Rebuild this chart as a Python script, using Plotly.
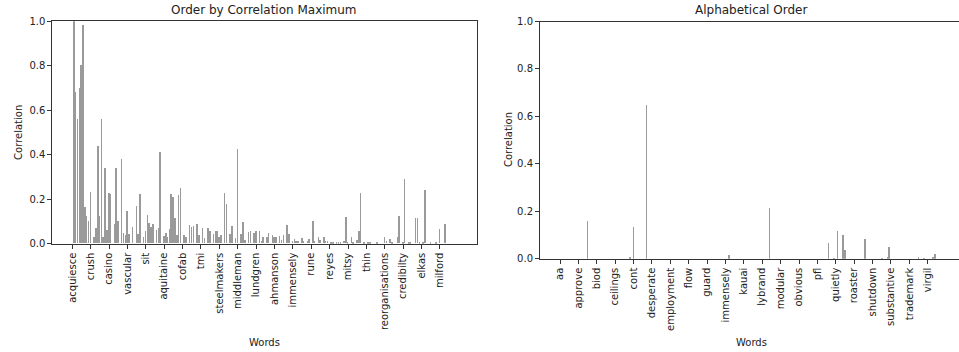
import plotly.graph_objects as go

# ---------------- data ----------------
left_tick_words = ["acquiesce", "crush", "casino", "vascular", "sit", "aquitaine", "cofab",
                   "tmi", "steelmakers", "middleman", "lundgren", "ahmanson", "immensely",
                   "rune", "reyes", "mitsy", "thin", "reorganisations", "credibilty",
                   "elkas", "milford"]
right_tick_words = ["aa", "approve", "biod", "ceilings", "cont", "desperate", "employment",
                    "flow", "guard", "immensely", "kauai", "lybrand", "modular", "obvious",
                    "pfl", "quietly", "roaster", "shutdown", "substantive", "trademark",
                    "virgil"]
TICK_STEP = 10  # one labelled word every 10 words

# correlation per word, ordered by correlation maximum (10 words per row)
left_values = [
    0, 1.00, 0.68, 0.56, 0.70, 0.80, 0.98, 0.165, 0.124, 0.10,
    0.23, 0, 0.03, 0.07, 0.44, 0.124, 0.56, 0.027, 0.34, 0.06,
    0.228, 0.22, 0, 0.087, 0.34, 0.10, 0, 0.38, 0.046, 0.04,
    0.145, 0.043, 0, 0.073, 0, 0.17, 0.043, 0.223, 0, 0.03,
    0.057, 0.127, 0.093, 0.076, 0.088, 0, 0.061, 0.069, 0.413, 0,
    0.034, 0.046, 0.027, 0.066, 0.223, 0.207, 0.114, 0.039, 0.219, 0.251,
    0, 0.039, 0.027, 0, 0.084, 0.073, 0.079, 0, 0.088, 0.036,
    0, 0.069, 0.024, 0, 0.069, 0.057, 0, 0.042, 0.057, 0.057,
    0.031, 0.039, 0, 0.226, 0.177, 0, 0.042, 0.079, 0, 0.024,
    0.424, 0, 0.043, 0.096, 0.016, 0, 0.051, 0.057, 0, 0.046,
    0.054, 0, 0.057, 0.013, 0.027, 0, 0.027, 0.049, 0, 0.039,
    0.031, 0.031, 0, 0.034, 0.016, 0.036, 0, 0.083, 0.042, 0,
    0.013, 0.021, 0.013, 0.009, 0, 0.024, 0.010, 0, 0.009, 0.018,
    0, 0.10, 0.009, 0, 0.028, 0.015, 0, 0.028, 0.009, 0.009,
    0, 0.006, 0.004, 0, 0.004, 0.004, 0.004, 0, 0.009, 0.118,
    0.004, 0, 0.027, 0.007, 0, 0.016, 0.057, 0.226, 0, 0.004,
    0, 0.006, 0.004, 0, 0, 0, 0.006, 0, 0, 0,
    0.028, 0.009, 0, 0.019, 0.006, 0, 0, 0.031, 0.121, 0,
    0.004, 0.29, 0, 0.006, 0.004, 0, 0, 0.114, 0.114, 0.004,
    0, 0.006, 0.241, 0, 0, 0.004, 0, 0, 0.004, 0,
    0.066, 0, 0, 0.088, 0, 0, 0, 0, 0, 0,
]

# correlation per word, alphabetical order (10 words per row)
right_values = [
    0, 0, 0, 0, 0, 0, 0, 0, 0, 0,
    0, 0, 0, 0, 0, 0.163, 0, 0, 0, 0,
    0, 0, 0, 0, 0, 0, 0, 0, 0, 0,
    0, 0, 0, 0, 0, 0, 0, 0, 0.011, 0,
    0.135, 0, 0, 0, 0, 0, 0, 0.650, 0, 0,
    0, 0, 0, 0, 0, 0, 0, 0, 0, 0,
    0, 0, 0, 0, 0, 0, 0, 0, 0, 0,
    0, 0, 0, 0, 0, 0, 0, 0, 0, 0,
    0, 0, 0, 0, 0, 0, 0, 0, 0, 0,
    0, 0, 0.018, 0, 0, 0, 0, 0, 0, 0,
    0, 0, 0, 0, 0, 0, 0, 0, 0, 0,
    0, 0, 0, 0, 0.214, 0, 0, 0, 0, 0,
    0, 0, 0, 0, 0, 0, 0, 0, 0, 0,
    0, 0, 0, 0, 0, 0, 0, 0, 0, 0,
    0, 0, 0, 0, 0, 0, 0.070, 0, 0, 0.003,
    0, 0.118, 0, 0, 0.103, 0.037, 0, 0, 0, 0,
    0, 0, 0, 0, 0, 0, 0.086, 0, 0, 0,
    0, 0, 0, 0, 0, 0.003, 0, 0, 0.011, 0.053,
    0, 0, 0, 0, 0, 0, 0, 0, 0, 0,
    0, 0, 0, 0, 0, 0.008, 0, 0, 0.007, 0,
    0, 0, 0, 0.010, 0.021, 0, 0, 0, 0, 0,
]

y_tick_vals = [0.0, 0.2, 0.4, 0.6, 0.8, 1.0]
y_tick_text = ["0.0", "0.2", "0.4", "0.6", "0.8", "1.0"]

# ---------------- figure ----------------
W, H = 959, 352
FONT = "DejaVu Sans"
BAR_COLOR = "#9a9a9a"
LINE = "#333333"

left_pos = list(range(len(left_values)))
right_pos = list(range(len(right_values)))
left_ticks = left_pos[::TICK_STEP][:len(left_tick_words)]
right_ticks = right_pos[::TICK_STEP][:len(right_tick_words)]

fig = go.Figure()
fig.add_trace(go.Bar(x=left_pos, y=left_values, width=0.3, marker_color=BAR_COLOR,
                     marker_line_width=0, xaxis="x", yaxis="y", showlegend=False))
fig.add_trace(go.Bar(x=right_pos, y=right_values, width=0.3, marker_color=BAR_COLOR,
                     marker_line_width=0, xaxis="x2", yaxis="y2", showlegend=False))

def px(v):
    return v / W

def py(v):
    return 1 - v / H

axis_common = dict(showline=True, linecolor=LINE, linewidth=1, ticks="outside",
                   ticklen=4, tickwidth=1, tickcolor=LINE, showgrid=False,
                   zeroline=False, automargin=False,
                   tickfont=dict(family=FONT, size=10, color="#222"))

fig.update_layout(
    width=W, height=H,
    margin=dict(l=0, r=0, t=0, b=0, pad=0, autoexpand=False),
    paper_bgcolor="white", plot_bgcolor="white",
    bargap=0,
    xaxis=dict(domain=[px(52.3), px(476.5)], range=[-10.88, 219.9],
               tickmode="array", tickvals=left_ticks, ticktext=left_tick_words,
               tickangle=-90, mirror=True, anchor="y", **axis_common),
    yaxis=dict(domain=[py(243.7), py(21.3)], range=[0, 1],
               tickmode="array", tickvals=y_tick_vals, ticktext=y_tick_text,
               mirror=True, anchor="x", **axis_common),
    xaxis2=dict(domain=[px(540), 1.0], range=[-10.88, 217.0],
                tickmode="array", tickvals=right_ticks, ticktext=right_tick_words,
                tickangle=-90, mirror=True, anchor="y2", **axis_common),
    yaxis2=dict(domain=[py(258.7), py(21.5)], range=[0, 1],
                tickmode="array", tickvals=y_tick_vals, ticktext=y_tick_text,
                mirror=False, anchor="x2", **axis_common),
)

def ann(text, x, y, size=10, angle=0):
    return dict(text=text, x=px(x), y=py(y), xref="paper", yref="paper",
                showarrow=False, textangle=angle, xanchor="center", yanchor="middle",
                font=dict(family=FONT, size=size, color="#222"))

fig.update_layout(annotations=[
    ann("Order by Correlation Maximum", 264.4, 10, size=12),
    ann("Alphabetical Order", 751, 10, size=12),
    ann("Words", 264.4, 342),
    ann("Words", 751, 342),
    ann("Correlation", 18.5, 132.4, angle=-90),
    ann("Correlation", 508, 140.1, angle=-90),
])

fig.write_html("out.html")
